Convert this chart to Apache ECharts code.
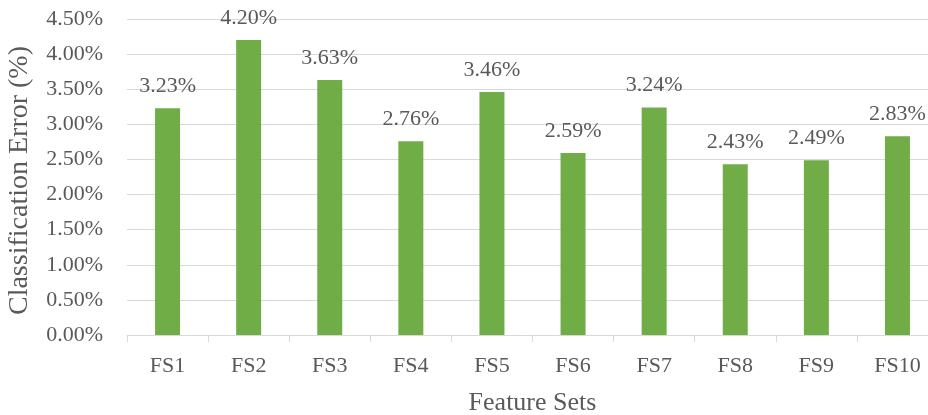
<!DOCTYPE html>
<html>
<head>
<meta charset="utf-8">
<script src="https://cdn.jsdelivr.net/npm/echarts@6/dist/echarts.min.js"></script>
<style>html,body{margin:0;padding:0;background:#fff}#c{width:928px;height:415px}</style>
</head>
<body>
<div id="c"></div>
<script>
const categories = ['FS1','FS2','FS3','FS4','FS5','FS6','FS7','FS8','FS9','FS10'];
const errorValues = [3.23, 4.20, 3.63, 2.76, 3.46, 2.59, 3.24, 2.43, 2.49, 2.83];
const xTitle = 'Feature Sets';
const yTitle = 'Classification Error (%)';

const FONT = 'Liberation Serif';
const TXT = '#595959';
const chart = echarts.init(document.getElementById('c'), null, {renderer:'canvas'});
chart.setOption({
  animation: false,
  grid: {left: 127, top: 19, width: 811, height: 316, containLabel: false, outerBoundsMode: 'none'},
  xAxis: {
    type: 'category',
    data: categories,
    name: xTitle,
    nameLocation: 'middle',
    nameGap: 55,
    nameTextStyle: {fontFamily: FONT, fontSize: 26, color: TXT},
    axisLine: {lineStyle: {color: '#d9d9d9', width: 1}},
    axisTick: {show: true, length: 7, lineStyle: {color: '#d9d9d9'}},
    axisLabel: {fontFamily: FONT, fontSize: 22, color: TXT, margin: 20},
    splitLine: {show: false}
  },
  yAxis: {
    type: 'value',
    min: 0, max: 4.5, interval: 0.5,
    name: yTitle,
    nameLocation: 'middle',
    nameGap: 93,
    nameTextStyle: {fontFamily: FONT, fontSize: 28, color: TXT, padding: [0, 7, 0, 0]},
    axisLine: {show: false},
    axisTick: {show: false},
    axisLabel: {fontFamily: FONT, fontSize: 22, color: TXT, margin: 24,
      formatter: v => v.toFixed(2) + '%'},
    splitLine: {lineStyle: {color: '#d9d9d9', width: 1}}
  },
  series: [{
    type: 'bar',
    data: errorValues,
    barWidth: 25,
    itemStyle: {color: '#70ad47'},
    label: {show: true, position: 'top', distance: 11,
      fontFamily: FONT, fontSize: 22, color: TXT,
      formatter: p => p.value.toFixed(2) + '%'}
  }]
});
</script>
</body>
</html>
